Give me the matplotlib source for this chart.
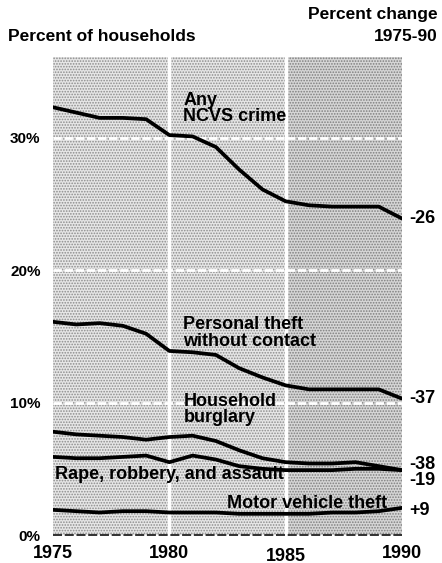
import matplotlib
matplotlib.use("Agg")
import matplotlib.pyplot as plt
from matplotlib.patches import Rectangle
from matplotlib.transforms import ScaledTranslation

# Data (percent of households)
years = list(range(1975, 1991))
any_crime = [32.3, 31.9, 31.5, 31.5, 31.4, 30.2, 30.1, 29.3, 27.6, 26.1,
             25.2, 24.9, 24.8, 24.8, 24.8, 23.9]
personal_theft = [16.1, 15.9, 16.0, 15.8, 15.2, 13.9, 13.8, 13.6, 12.6, 11.9,
                  11.3, 11.0, 11.0, 11.0, 11.0, 10.3]
burglary = [7.8, 7.6, 7.5, 7.4, 7.2, 7.4, 7.5, 7.1, 6.4, 5.8,
            5.5, 5.4, 5.4, 5.5, 5.2, 4.9]
violent = [5.9, 5.8, 5.8, 5.9, 6.0, 5.5, 6.0, 5.7, 5.2, 5.0,
           4.9, 4.9, 4.9, 5.0, 5.0, 4.9]
vehicle_theft = [1.9, 1.8, 1.7, 1.8, 1.8, 1.7, 1.7, 1.7, 1.6, 1.6,
                 1.6, 1.6, 1.7, 1.7, 1.8, 2.05]
pct_change = ["-26", "-37", "-38", "-19", "+9"]
ytick_vals = [0, 10, 20, 30]
ytick_labels = ["0%", "10%", "20%", "30%"]
xtick_vals = [1975, 1980, 1985, 1990]


def main():
    plt.rcParams["font.family"] = ["Liberation Sans", "DejaVu Sans"]
    plt.rcParams["font.weight"] = "bold"
    plt.rcParams["hatch.linewidth"] = 0.8
    plt.rcParams["hatch.color"] = "#8c8c8c"

    fig = plt.figure(figsize=(4.42, 5.63), dpi=100)
    ax = fig.add_axes([0.12, 0.0497, 0.7895, 0.8491])
    ax.set_xlim(1975, 1990)
    ax.set_ylim(0, 36.1)

    # stippled background (a bit denser on the right block)
    ax.add_patch(Rectangle((1975, 0), 15, 36.1, facecolor="#e6e6e6",
                           hatch="......", edgecolor="#8c8c8c", linewidth=0,
                           zorder=0))
    ax.add_patch(Rectangle((1985, 0), 5, 36.1, facecolor="#d6d6d6",
                           hatch="......", edgecolor="#7e7e7e", linewidth=0,
                           zorder=0.5))

    # white grid
    for y in [10, 20, 30]:
        ax.axhline(y, color="white", lw=2.0, ls=(0, (3, 1)), zorder=1)
    for x in [1980, 1985]:
        ax.axvline(x, color="white", lw=2.5, zorder=1)
    ax.plot([1975, 1990], [0, 0], color="#222222", lw=1.3,
            ls=(0, (5, 1.5)), zorder=2, clip_on=False)

    for series in [any_crime, personal_theft, burglary, violent, vehicle_theft]:
        ax.plot(years, series, color="black", lw=2.7, zorder=3,
                solid_capstyle="round", solid_joinstyle="round")

    for s in ax.spines.values():
        s.set_visible(False)
    ax.set_yticks(ytick_vals)
    ax.set_yticklabels(ytick_labels)
    ax.set_xticks(xtick_vals)
    ax.set_xticklabels([str(x) for x in xtick_vals])
    ax.tick_params(length=0)
    ax.tick_params(axis="y", labelsize=11, pad=9)
    ax.tick_params(axis="x", labelsize=13, pad=7)
    for lbl in ax.get_xticklabels():
        if lbl.get_text() == "1985":
            lbl.set_transform(lbl.get_transform() +
                              ScaledTranslation(0, -2 / 72, fig.dpi_scale_trans))

    # series labels
    lab = dict(fontsize=13, fontweight="bold", zorder=4)
    ax.text(1980.6, 30.95, "Any\nNCVS crime", ha="left", va="bottom",
            linespacing=0.95, **lab)
    ax.text(1980.6, 14.0, "Personal theft\nwithout contact", ha="left",
            va="bottom", linespacing=0.95, **lab)
    ax.text(1980.6, 8.2, "Household\nburglary", ha="left", va="bottom",
            linespacing=0.95, **lab)
    ax.text(1975.1, 3.9, "Rape, robbery, and assault", ha="left",
            va="bottom", **lab)
    ax.text(1989.35, 1.75, "Motor vehicle theft", ha="right", va="bottom",
            **lab)

    # percent change labels
    ends = [any_crime[-1], personal_theft[-1], burglary[-1] + 0.45,
            violent[-1] - 0.75, vehicle_theft[-1] - 0.2]
    for txt, y in zip(pct_change, ends):
        ax.text(1990.3, y, txt, ha="left", va="center", fontsize=13,
                fontweight="bold", clip_on=False)

    fig.text(0.018, 0.935, "Percent of households", ha="left", va="center",
             fontsize=12.5, fontweight="bold")
    fig.text(0.99, 0.974, "Percent change", ha="right", va="center",
             fontsize=12.5, fontweight="bold")
    fig.text(0.99, 0.935, "1975-90", ha="right", va="center",
             fontsize=12.5, fontweight="bold")

    fig.savefig("out.png", dpi=100)
    return 0


if __name__ == "__main__":
    main()
